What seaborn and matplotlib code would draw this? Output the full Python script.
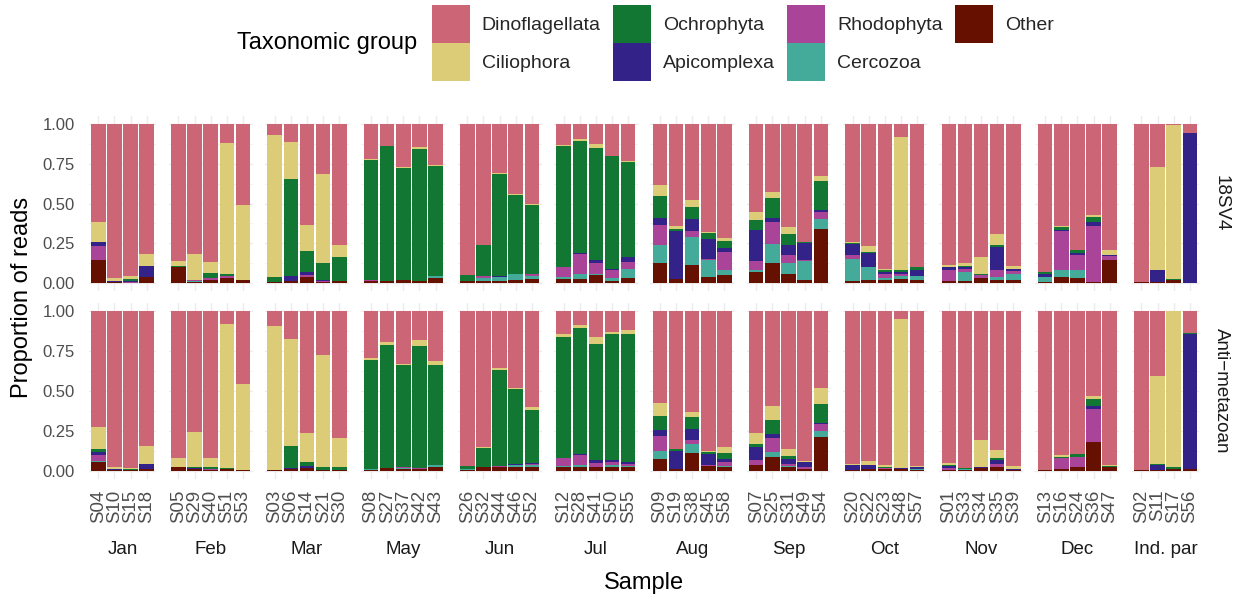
import numpy as np
import pandas as pd
import matplotlib
matplotlib.use("Agg")
import matplotlib.pyplot as plt
import seaborn as sns
from matplotlib.patches import Patch

# ---- categories -------------------------------------------------------------
TAXA = ["Dinoflagellata", "Ciliophora", "Ochrophyta", "Apicomplexa",
        "Rhodophyta", "Cercozoa", "Other"]
COLORS = ["#CC6677", "#DDCC77", "#117733", "#332288",
          "#AA4499", "#44AA99", "#661100"]
# layers listed from the bottom of each bar upwards
STACK_ORDER = ["Other", "Cercozoa", "Rhodophyta", "Apicomplexa",
               "Ochrophyta", "Ciliophora", "Dinoflagellata"]

MONTHS = ["Jan", "Feb", "Mar", "May", "Jun", "Jul", "Aug", "Sep",
          "Oct", "Nov", "Dec", "Ind. par"]
SAMPLES = [
    ["S04", "S10", "S15", "S18"],
    ["S05", "S29", "S40", "S51", "S53"],
    ["S03", "S06", "S14", "S21", "S30"],
    ["S08", "S27", "S37", "S42", "S43"],
    ["S26", "S32", "S44", "S46", "S52"],
    ["S12", "S28", "S41", "S50", "S55"],
    ["S09", "S19", "S38", "S45", "S58"],
    ["S07", "S25", "S31", "S49", "S54"],
    ["S20", "S22", "S23", "S48", "S57"],
    ["S01", "S33", "S34", "S35", "S39"],
    ["S13", "S16", "S24", "S36", "S47"],
    ["S02", "S11", "S17", "S56"],
]
MARKERS = ["18SV4", "Anti\u2212metazoan"]

# Cumulative proportion of reads at the top of each layer
# (Other, Cercozoa, Rhodophyta, Apicomplexa, Ochrophyta, Ciliophora);
# Dinoflagellata fills the remainder up to 1.
V4_TOPS = [
    # Jan
    [0.146, 0.146, 0.234, 0.255, 0.260, 0.385],
    [0.005, 0.005, 0.008, 0.013, 0.016, 0.033],
    [0.003, 0.003, 0.005, 0.010, 0.025, 0.042],
    [0.035, 0.035, 0.038, 0.105, 0.110, 0.184],
    # Feb
    [0.098, 0.104, 0.104, 0.104, 0.110, 0.140],
    [0.004, 0.015, 0.020, 0.020, 0.022, 0.184],
    [0.017, 0.017, 0.030, 0.030, 0.065, 0.134],
    [0.030, 0.030, 0.042, 0.042, 0.054, 0.880],
    [0.017, 0.017, 0.017, 0.017, 0.017, 0.490],
    # Mar
    [0.004, 0.004, 0.004, 0.004, 0.035, 0.930],
    [0.010, 0.010, 0.010, 0.042, 0.655, 0.887],
    [0.035, 0.035, 0.048, 0.067, 0.203, 0.366],
    [0.006, 0.006, 0.013, 0.017, 0.128, 0.686],
    [0.010, 0.010, 0.010, 0.010, 0.161, 0.240],
    # May
    [0.013, 0.013, 0.017, 0.017, 0.776, 0.782],
    [0.010, 0.010, 0.010, 0.010, 0.864, 0.864],
    [0.017, 0.020, 0.020, 0.020, 0.724, 0.730],
    [0.013, 0.016, 0.016, 0.016, 0.843, 0.856],
    [0.030, 0.042, 0.042, 0.042, 0.736, 0.743],
    # Jun
    [0.010, 0.010, 0.010, 0.010, 0.050, 0.050],
    [0.015, 0.029, 0.042, 0.042, 0.237, 0.241],
    [0.010, 0.037, 0.037, 0.044, 0.686, 0.692],
    [0.017, 0.054, 0.060, 0.060, 0.555, 0.561],
    [0.023, 0.042, 0.054, 0.060, 0.490, 0.497],
    # Jul
    [0.023, 0.035, 0.098, 0.098, 0.859, 0.867],
    [0.023, 0.054, 0.185, 0.191, 0.896, 0.908],
    [0.048, 0.060, 0.123, 0.148, 0.846, 0.871],
    [0.015, 0.029, 0.085, 0.091, 0.796, 0.796],
    [0.029, 0.091, 0.135, 0.166, 0.759, 0.765],
    # Aug
    [0.129, 0.241, 0.366, 0.410, 0.547, 0.615],
    [0.025, 0.025, 0.025, 0.328, 0.341, 0.360],
    [0.116, 0.291, 0.328, 0.403, 0.478, 0.522],
    [0.035, 0.148, 0.154, 0.279, 0.316, 0.322],
    [0.048, 0.085, 0.198, 0.222, 0.266, 0.285],
    # Sep
    [0.067, 0.085, 0.141, 0.335, 0.397, 0.447],
    [0.129, 0.247, 0.385, 0.410, 0.534, 0.572],
    [0.054, 0.129, 0.179, 0.241, 0.310, 0.353],
    [0.017, 0.141, 0.148, 0.254, 0.260, 0.260],
    [0.341, 0.403, 0.447, 0.459, 0.640, 0.672],
    # Oct
    [0.010, 0.154, 0.179, 0.247, 0.252, 0.260],
    [0.017, 0.098, 0.098, 0.191, 0.197, 0.235],
    [0.017, 0.029, 0.054, 0.067, 0.079, 0.091],
    [0.023, 0.042, 0.060, 0.067, 0.079, 0.915],
    [0.017, 0.042, 0.042, 0.085, 0.098, 0.104],
    # Nov
    [0.010, 0.010, 0.079, 0.098, 0.104, 0.116],
    [0.010, 0.067, 0.091, 0.098, 0.110, 0.123],
    [0.029, 0.029, 0.048, 0.048, 0.054, 0.162],
    [0.017, 0.035, 0.079, 0.229, 0.241, 0.310],
    [0.017, 0.054, 0.073, 0.091, 0.091, 0.110],
    # Dec
    [0.004, 0.035, 0.035, 0.060, 0.067, 0.067],
    [0.035, 0.079, 0.328, 0.335, 0.353, 0.360],
    [0.029, 0.079, 0.179, 0.191, 0.210, 0.210],
    [0.004, 0.004, 0.360, 0.385, 0.416, 0.428],
    [0.148, 0.148, 0.173, 0.179, 0.179, 0.210],
    # Ind. par
    [0.004, 0.004, 0.004, 0.004, 0.004, 0.004],
    [0.004, 0.004, 0.004, 0.085, 0.085, 0.728],
    [0.017, 0.017, 0.017, 0.017, 0.023, 0.996],
    [0.002, 0.002, 0.002, 0.946, 0.946, 0.946],
]

AM_TOPS = [
    # Jan
    [0.056, 0.0625, 0.098, 0.117, 0.135, 0.273],
    [0.004, 0.004, 0.004, 0.0125, 0.0125, 0.023],
    [0.002, 0.002, 0.002, 0.002, 0.010, 0.017],
    [0.0125, 0.0125, 0.0125, 0.042, 0.042, 0.154],
    # Feb
    [0.023, 0.023, 0.023, 0.023, 0.023, 0.079],
    [0.008, 0.008, 0.008, 0.015, 0.023, 0.242],
    [0.006, 0.006, 0.0125, 0.0125, 0.023, 0.079],
    [0.010, 0.010, 0.010, 0.010, 0.017, 0.917],
    [0.006, 0.006, 0.006, 0.006, 0.006, 0.542],
    # Mar
    [0.006, 0.006, 0.006, 0.006, 0.006, 0.904],
    [0.008, 0.008, 0.008, 0.017, 0.154, 0.823],
    [0.017, 0.017, 0.017, 0.029, 0.054, 0.235],
    [0.006, 0.006, 0.006, 0.006, 0.023, 0.723],
    [0.006, 0.006, 0.006, 0.006, 0.023, 0.204],
    # May
    [0.004, 0.0125, 0.0125, 0.0125, 0.692, 0.704],
    [0.015, 0.015, 0.017, 0.017, 0.785, 0.804],
    [0.010, 0.017, 0.023, 0.023, 0.660, 0.667],
    [0.0125, 0.0125, 0.015, 0.015, 0.779, 0.817],
    [0.023, 0.035, 0.035, 0.035, 0.660, 0.685],
    # Jun
    [0.006, 0.0125, 0.0125, 0.0125, 0.029, 0.029],
    [0.019, 0.019, 0.025, 0.025, 0.142, 0.148],
    [0.019, 0.025, 0.027, 0.027, 0.629, 0.642],
    [0.019, 0.035, 0.035, 0.040, 0.510, 0.517],
    [0.025, 0.035, 0.042, 0.048, 0.379, 0.398],
    # Jul
    [0.019, 0.029, 0.079, 0.079, 0.835, 0.854],
    [0.025, 0.035, 0.098, 0.104, 0.892, 0.910],
    [0.025, 0.025, 0.048, 0.067, 0.792, 0.835],
    [0.019, 0.035, 0.054, 0.067, 0.854, 0.867],
    [0.019, 0.029, 0.042, 0.054, 0.854, 0.879],
    # Aug
    [0.073, 0.123, 0.217, 0.254, 0.342, 0.423],
    [0.0125, 0.0125, 0.0125, 0.125, 0.135, 0.138],
    [0.110, 0.167, 0.192, 0.260, 0.335, 0.367],
    [0.029, 0.029, 0.035, 0.104, 0.117, 0.125],
    [0.023, 0.029, 0.054, 0.073, 0.110, 0.148],
    # Sep
    [0.035, 0.035, 0.067, 0.148, 0.167, 0.235],
    [0.085, 0.117, 0.204, 0.229, 0.317, 0.404],
    [0.019, 0.029, 0.042, 0.073, 0.092, 0.135],
    [0.0125, 0.0125, 0.019, 0.054, 0.054, 0.060],
    [0.210, 0.248, 0.292, 0.298, 0.417, 0.517],
    # Oct
    [0.006, 0.006, 0.006, 0.035, 0.035, 0.042],
    [0.0125, 0.0125, 0.0125, 0.035, 0.035, 0.060],
    [0.0125, 0.0125, 0.017, 0.017, 0.023, 0.035],
    [0.0125, 0.0125, 0.0125, 0.017, 0.017, 0.948],
    [0.006, 0.0125, 0.0125, 0.023, 0.025, 0.029],
    # Nov
    [0.006, 0.006, 0.017, 0.029, 0.035, 0.048],
    [0.006, 0.0125, 0.0125, 0.0125, 0.017, 0.017],
    [0.017, 0.017, 0.017, 0.023, 0.025, 0.192],
    [0.025, 0.025, 0.042, 0.067, 0.079, 0.129],
    [0.006, 0.006, 0.006, 0.0125, 0.0125, 0.029],
    # Dec
    [0.006, 0.006, 0.006, 0.006, 0.006, 0.006],
    [0.0125, 0.0125, 0.079, 0.079, 0.085, 0.098],
    [0.023, 0.023, 0.085, 0.085, 0.104, 0.104],
    [0.179, 0.179, 0.385, 0.404, 0.448, 0.467],
    [0.025, 0.025, 0.025, 0.025, 0.031, 0.035],
    # Ind. par
    [0.004, 0.004, 0.004, 0.004, 0.004, 0.004],
    [0.004, 0.004, 0.004, 0.035, 0.042, 0.592],
    [0.0125, 0.0125, 0.0125, 0.0125, 0.023, 1.000],
    [0.0125, 0.0125, 0.0125, 0.854, 0.860, 0.860],
]

# ---- long table -------------------------------------------------------------
records = []
for marker, tops in zip(MARKERS, [V4_TOPS, AM_TOPS]):
    i = 0
    for month, samples in zip(MONTHS, SAMPLES):
        for s in samples:
            bounds = np.concatenate([[0.0], tops[i], [1.0]])
            props = np.diff(bounds)
            for taxon, p in zip(STACK_ORDER, props):
                records.append((marker, month, s, taxon, max(p, 0.0)))
            i += 1
df = pd.DataFrame(records, columns=["marker", "month", "sample", "taxon", "prop"])

# ---- style ------------------------------------------------------------------
sns.set_theme(style="white")
plt.rcParams["font.family"] = ["Liberation Sans", "DejaVu Sans"]

W, H = 1239, 601
fig = plt.figure(figsize=(W / 100, H / 100), dpi=100)
fig.patch.set_facecolor("white")

left_px, right_px, gap_px = 88.6, 1199.5, 12.4
units = [len(s) + 0.2 for s in SAMPLES]
u = (right_px - left_px - gap_px * (len(SAMPLES) - 1)) / sum(units)
rows = [(116.0, 291.0), (303.0, 478.5)]

GRID = "#EBEBEB"
TICK = "#4D4D4D"
STRIP = "#1A1A1A"

col_x = []
x0 = left_px
for c, samples in enumerate(SAMPLES):
    col_x.append((x0, units[c] * u))
    x0 += units[c] * u + gap_px

for r, marker in enumerate(MARKERS):
    y0, y1 = rows[r]
    for c, (month, samples) in enumerate(zip(MONTHS, SAMPLES)):
        xl, wpx = col_x[c]
        ax = fig.add_axes([xl / W, 1 - y1 / H, wpx / W, (y1 - y0) / H])
        sub = df[(df.marker == marker) & (df.month == month)].copy()
        sub["sample"] = pd.Categorical(sub["sample"], categories=samples, ordered=True)
        sub = sub.sort_values(["sample"]).reset_index(drop=True)
        sub["sample"] = sub["sample"].astype(str)
        sns.histplot(data=sub, x="sample", weights="prop", hue="taxon",
                     hue_order=TAXA, palette=COLORS, multiple="stack",
                     discrete=True, shrink=0.9, alpha=1, linewidth=0,
                     edgecolor="none", legend=False, ax=ax)
        n = len(samples)
        ax.set_xlim(-0.6, n - 0.4)
        ax.set_ylim(-0.05, 1.05)
        ax.set_xlabel("")
        ax.set_ylabel("")
        ax.set_facecolor("white")
        for sp in ax.spines.values():
            sp.set_visible(False)
        ax.set_axisbelow(True)
        ax.set_yticks([0, 0.25, 0.5, 0.75, 1.0])
        ax.set_yticks([0.125, 0.375, 0.625, 0.875], minor=True)
        ax.set_yticklabels(["0.00", "0.25", "0.50", "0.75", "1.00"])
        ax.set_xticks(range(n))
        ax.set_xticklabels(samples)
        ax.grid(which="major", color=GRID, lw=1.0)
        ax.grid(which="minor", axis="y", color=GRID, lw=0.5)
        ax.tick_params(which="both", length=0)
        ax.tick_params(axis="y", labelsize=12, labelcolor=TICK, pad=10,
                       labelleft=(c == 0))
        ax.tick_params(axis="x", labelsize=13.4, labelcolor=TICK, pad=8,
                       labelrotation=90, labelbottom=(r == 1))
        if r == 1:
            fig.text((xl + wpx / 2) / W, 1 - 550 / H, month, ha="center",
                     va="center", fontsize=13.5, color=STRIP)
    fig.text(1221.5 / W, 1 - (y0 + y1) / 2 / H, marker, rotation=-90,
             ha="center", va="center", fontsize=13.5, color=STRIP)

# axis titles
fig.text(22 / W, 1 - 297 / H, "Proportion of reads", rotation=90,
         ha="center", va="center", fontsize=17, color="black")
fig.text((left_px + right_px) / 2 / W, 1 - 583 / H, "Sample",
         ha="center", va="center", fontsize=17, color="black")

# legend: two rows of square keys, filled column by column
handles = [Patch(facecolor=col, edgecolor="none", label=t)
           for t, col in zip(TAXA, COLORS)]
fig.legend(handles=handles, ncol=4, loc="upper left",
           bbox_to_anchor=(432 / W, 1 - 5 / H), frameon=False, fontsize=14,
           handlelength=1.95, handleheight=2.63, handletextpad=0.6,
           columnspacing=0.65, labelspacing=0, borderpad=0, borderaxespad=0)
fig.text(237 / W, 1 - 43 / H, "Taxonomic group", ha="left", va="center",
         fontsize=17, color="black")

fig.savefig("out.png", dpi=100, facecolor="white")
